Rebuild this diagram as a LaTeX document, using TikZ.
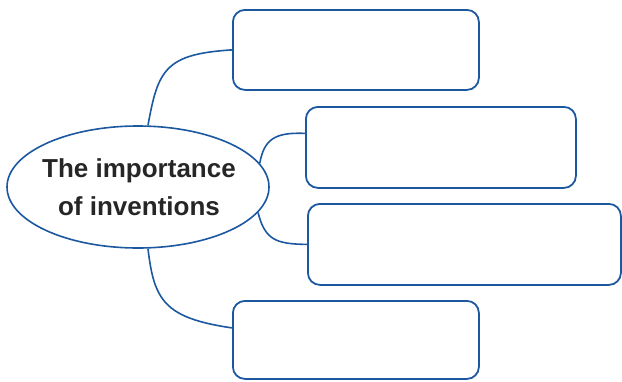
\documentclass[tikz,border=0pt]{standalone}
\usepackage{fontspec}
\setmainfont{Liberation Sans}
\usetikzlibrary{shapes.geometric}
\definecolor{lineblue}{RGB}{28,88,160}
\tikzset{
  box/.style={draw=lineblue, line width=1.8pt, rounded corners=12pt, inner sep=0pt, anchor=north west},
  link/.style={draw=lineblue, line width=1.6pt},
  hub/.style={draw=lineblue, line width=1.6pt, ellipse, inner sep=0pt, minimum width=262pt, minimum height=122pt},
  hubtext/.style={align=center, inner sep=0pt, font=\bfseries\fontsize{26}{38}\selectfont, text=black!85}
}
\begin{document}
\begin{tikzpicture}[x=1pt,y=-1pt]
\useasboundingbox (0,0) rectangle (622,381);
\node[hub] (c) at (138,187) {};
\node[hubtext] (t) at (139,187) {The importance\\of inventions};
\node[box, minimum width=246pt, minimum height=80pt] (b1) at (232,9) {};
\node[box, minimum width=270pt, minimum height=81pt] (b2) at (305,106) {};
\node[box, minimum width=313pt, minimum height=81pt] (b3) at (307,203) {};
\node[box, minimum width=246pt, minimum height=78pt] (b4) at (232,300) {};
\coordinate (b1w) at (b1.west);
\coordinate (b2w) at ([yshift=14pt]b2.west);
\coordinate (b3w) at (b3.west);
\coordinate (b4w) at ([yshift=12pt]b4.west);
\draw[link] (c.north) ++(10,0) coordinate (c1) .. controls (158,70) and (165,54) .. (b1w);
\draw[link] (c.south) ++(10,0) coordinate (c4) .. controls (154,300) and (164,318) .. (b4w);
\draw[link] (c.11) .. controls (264,140) and (274,132) .. (b2w);
\draw[link] (c.-12) .. controls (265,240) and (276,244) .. (b3w);
\end{tikzpicture}
\end{document}
